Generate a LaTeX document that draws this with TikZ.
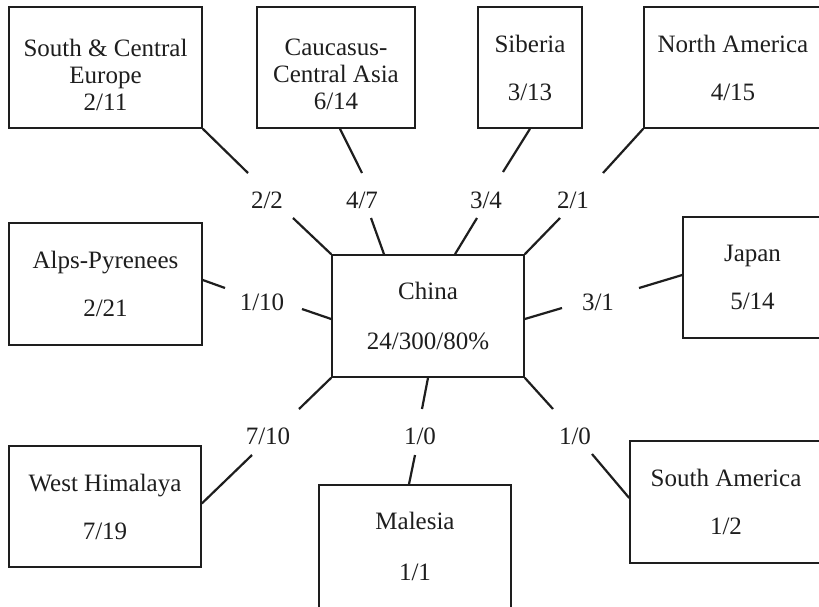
\documentclass[tikz,border=0pt]{standalone}
\usepackage{fontspec}
\setmainfont{Liberation Serif}
\usetikzlibrary{calc}
\definecolor{ink}{HTML}{1E1E1E}
\tikzset{
  box/.style={draw=ink, line width=1.6pt, inner sep=0pt, align=center, text=ink,
    font=\fontsize{25pt}{27pt}\selectfont},
  tri/.style={align=center, text=ink, inner sep=0pt, yshift=-7pt,
    font=\fontsize{25pt}{27pt}\selectfont},
  num/.style={text=ink, inner sep=0pt, font=\fontsize{25pt}{27pt}\selectfont},
  link/.style={draw=ink, line width=2.2pt},
}
\begin{document}
\begin{tikzpicture}[x=1pt,y=-1pt]
\useasboundingbox (0,0) rectangle (819,606);
\fill[white] (0,0) rectangle (819,606);
% boxes
\node[box, minimum width=193pt, minimum height=121pt,
  label={[tri]center:{South \& Central\\Europe\\2/11}}] (sce) at (105.5,67.5) {};
\node[box, minimum width=158pt, minimum height=121pt,
  label={[tri]center:{Caucasus-\\Central Asia\\6/14}}] (cau) at (336,67.5) {};
\node[box, minimum width=104pt, minimum height=121pt] (sib) at (530,67.5) {Siberia\\[21pt]3/13};
\node[box, minimum width=178pt, minimum height=121pt] (na) at (733,67.5) {North America\\[21pt]4/15};
\node[box, minimum width=193pt, minimum height=122pt] (alps) at (105.5,284) {Alps-Pyrenees\\[21pt]2/21};
\node[box, minimum width=192pt, minimum height=122pt] (china) at (428,316) {China\\[23pt]24/300/80\%};
\node[box, minimum width=139pt, minimum height=121pt] (jap) at (752.5,277.5) {Japan\\[21pt]5/14};
\node[box, minimum width=192pt, minimum height=121pt] (wh) at (105,506.5) {West Himalaya\\[21pt]7/19};
\node[box, minimum width=192pt, minimum height=123pt] (mal) at (415,546.5) {Malesia\\[24pt]1/1};
\node[box, minimum width=192pt, minimum height=122pt] (sa) at (726,502) {South America\\[21pt]1/2};
% connector labels
\node[num] (t1) at (267,200) {2/2};
\node[num] (t2) at (362,200) {4/7};
\node[num] (t3) at (486,200) {3/4};
\node[num] (t4) at (573,200) {2/1};
\node[num] (t5) at (262,302) {1/10};
\node[num] (t6) at (598,302) {3/1};
\node[num] (t7) at (268,436) {7/10};
\node[num] (t8) at (420,436) {1/0};
\node[num] (t9) at (575,436) {1/0};
% free ends of connectors
\coordinate (a1) at (248,173); \coordinate (a2) at (293,218);
\coordinate (b1) at (362,173); \coordinate (b2) at (371,218);
\coordinate (c1) at (503,172); \coordinate (c2) at (477,218);
\coordinate (d1) at (603,173); \coordinate (d2) at (560,218);
\coordinate (e1) at (225,288); \coordinate (e2) at (302,309);
\coordinate (f1) at (639,288); \coordinate (f2) at (562,308);
\coordinate (g1) at (299,409); \coordinate (g2) at (252,455);
\coordinate (h1) at (422,409); \coordinate (h2) at (415,455);
\coordinate (i1) at (553,409); \coordinate (i2) at (592,454);
% connectors
\draw[link] (sce.south east) -- (a1);
\draw[link] (a2) -- (china.north west);
\draw[link] ($(cau.south)+(4,0)$) -- (b1);
\draw[link] (b2) -- ($(china.north)+(-44,0)$);
\draw[link] (sib.south) -- (c1);
\draw[link] (c2) -- ($(china.north)+(27,0)$);
\draw[link] (na.south west) -- (d1);
\draw[link] (d2) -- (china.north east);
\draw[link] ($(alps.east)+(0,-4)$) -- (e1);
\draw[link] (e2) -- ($(china.west)+(0,3)$);
\draw[link] ($(jap.west)+(0,-2.5)$) -- (f1);
\draw[link] (f2) -- ($(china.east)+(0,3)$);
\draw[link] (china.south west) -- (g1);
\draw[link] (g2) -- ($(wh.east)+(0,-3)$);
\draw[link] (china.south) -- (h1);
\draw[link] (h2) -- ($(mal.north)+(-6,0)$);
\draw[link] (china.south east) -- (i1);
\draw[link] (i2) -- ($(sa.west)+(0,-4)$);
\end{tikzpicture}
\end{document}
